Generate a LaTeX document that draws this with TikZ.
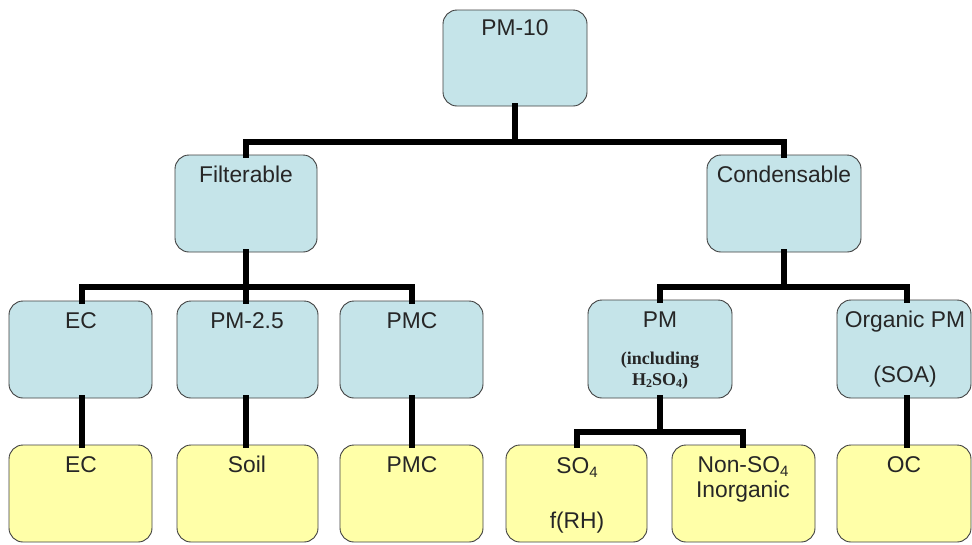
\documentclass[tikz,border=0pt]{standalone}
\usepackage{fontspec}
\setmainfont{Liberation Sans}
\newfontfamily\timesbf{Liberation Serif}
\begin{document}
\begin{tikzpicture}[x=1pt,y=-1pt,
  box/.style={draw=black!75, line width=0.9pt, rounded corners=14pt, inner sep=0pt},
  bluebox/.style={box, fill=boxblue},
  yelbox/.style={box, fill=boxyel},
  lbl/.style={anchor=base, inner sep=0pt, text=black!85, font=\fontsize{22.8}{25}\selectfont, align=center},
  sublbl/.style={anchor=base, inner sep=0pt, text=black!85, font=\timesbf\bfseries\fontsize{18}{21}\selectfont, align=center},
  conn/.style={line width=6pt, line join=miter, line cap=rect}]
\definecolor{boxblue}{HTML}{C5E4E9}
\definecolor{boxyel}{HTML}{FFFFA8}
\useasboundingbox (0,0) rectangle (972,544);
\path[fill=white] (0,0) rectangle (972,544);

% boxes: corners
\newcommand{\mkbox}[6]{\node[#1, minimum width={(#4-#3)*1pt}, minimum height={(#6-#5)*1pt}] (#2) at ({(#3+#4)/2},{(#5+#6)/2}) {};}
\mkbox{bluebox}{pm10}{443}{587}{10}{106}
\mkbox{bluebox}{filt}{175}{317}{155}{252}
\mkbox{bluebox}{cond}{707}{861}{155}{252}
\mkbox{bluebox}{ec}{9}{152}{301}{398}
\mkbox{bluebox}{pmtf}{177}{318}{301}{398}
\mkbox{bluebox}{pmc}{340}{483}{301}{398}
\mkbox{bluebox}{pm}{588}{732}{300}{398}
\mkbox{bluebox}{org}{837}{971}{300}{398}
\mkbox{yelbox}{ecb}{9}{152}{445}{542}
\mkbox{yelbox}{soil}{177}{318}{445}{542}
\mkbox{yelbox}{pmcb}{340}{483}{445}{542}
\mkbox{yelbox}{so}{506}{647}{445}{542}
\mkbox{yelbox}{nso}{672}{815}{445}{542}
\mkbox{yelbox}{oc}{837}{971}{445}{542}

% labels
\node[lbl] (t1) at (515,35) {PM-10};
\node[lbl] (t2) at (246,182) {Filterable};
\node[lbl] (t3) at (784,182) {Condensable};
\node[lbl] (t4) at (81,328) {EC};
\node[lbl] (t5) at (247,328) {PM-2.5};
\node[lbl] (t6) at (412,328) {PMC};
\node[lbl] (t7) at (660,327) {PM};
\node[sublbl] (t7b) at (660,364) {(including};
\node[sublbl] (t7c) at (660,385) {H\raisebox{-0.3ex}{\fontsize{12}{13}\selectfont 2}SO\raisebox{-0.3ex}{\fontsize{12}{13}\selectfont 4})};
\node[lbl] (t8) at (905,327) {Organic PM};
\node[lbl] (t8b) at (905,382) {(SOA)};
\node[lbl] (t9) at (81,472) {EC};
\node[lbl] (t10) at (247,472) {Soil};
\node[lbl] (t11) at (412,472) {PMC};
\node[lbl] (t12) at (577,473) {SO\raisebox{-0.35ex}{\fontsize{15}{16}\selectfont 4}};
\node[lbl] (t12b) at (577,528) {f(RH)};
\node[lbl] (t13) at (743,472) {Non-SO\raisebox{-0.35ex}{\fontsize{15}{16}\selectfont 4}};
\node[lbl] (t13b) at (743,497) {Inorganic};
\node[lbl] (t14) at (904,472) {OC};

% connectors
\coordinate (j1) at (515,142);
\coordinate (j2) at (246,287);
\coordinate (j3) at (784,287);
\coordinate (j4) at (660,432);
\draw[conn] (pm10.south) -- (j1);
\draw[conn] (246,155) |- (j1) -| (784,155);
\draw[conn] (filt.south) -- (j2);
\draw[conn] (82,301) |- (j2) -| (412,301);
\draw[conn] (246,287) -- (246,301);
\draw[conn] (cond.south) -- (j3);
\draw[conn] (660,300) |- (j3) -| (907,300);
\draw[conn] (82,398) -- (82,445);
\draw[conn] (246,398) -- (246,445);
\draw[conn] (412,398) -- (412,445);
\draw[conn] (907,398) -- (907,445);
\draw[conn] (pm.south) -- (j4);
\draw[conn] (577,445) |- (j4) -| (743,445);
\end{tikzpicture}
\end{document}
